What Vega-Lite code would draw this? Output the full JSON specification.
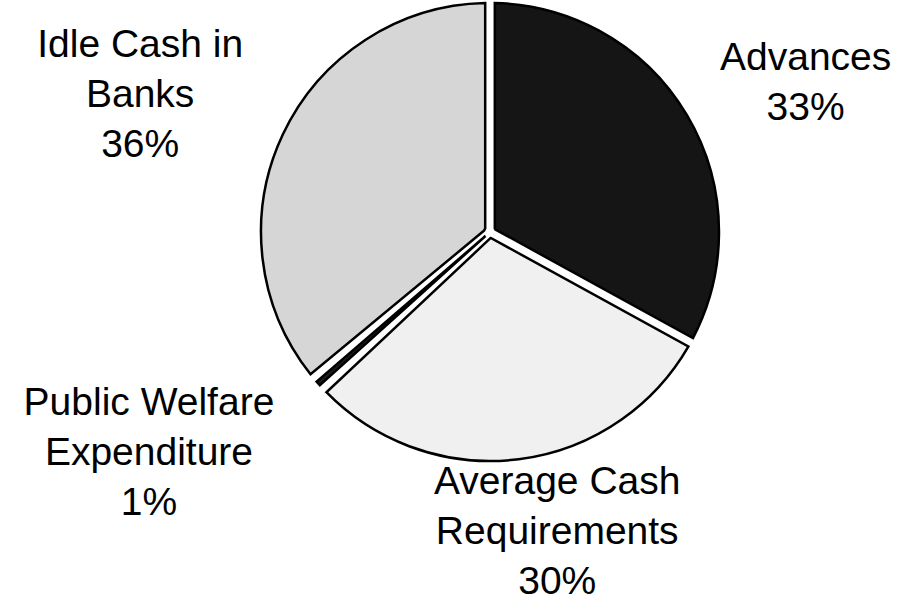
{
  "$schema": "https://vega.github.io/schema/vega-lite/v6.json",
  "width": 600,
  "height": 464,
  "autosize": "none",
  "padding": {"left": 190, "top": 0, "right": 111, "bottom": 141},
  "background": "white",
  "config": {"view": {"stroke": null}, "text": {"font": "Liberation Sans"}},
  "data": {
    "values": [
      {"name": "Advances", "label": "Advances\n33%", "value": 33, "idx": 1},
      {"name": "Average Cash Requirements", "label": "Average Cash\nRequirements\n30%", "value": 30, "idx": 2},
      {"name": "Public Welfare Expenditure", "label": "Public Welfare\nExpenditure\n1%", "value": 1, "idx": 3},
      {"name": "Idle Cash in Banks", "label": "Idle Cash in\nBanks\n36%", "value": 36, "idx": 4}
    ]
  },
  "encoding": {
    "theta": {"field": "value", "type": "quantitative", "stack": true},
    "order": {"field": "idx", "type": "quantitative"}
  },
  "layer": [
    {
      "mark": {"type": "arc", "radius": 229, "radius2": 6, "padAngle": 0.042, "stroke": "black", "strokeWidth": 2.5, "strokeJoin": "miter"},
      "encoding": {
        "color": {
          "field": "name",
          "type": "nominal",
          "scale": {
            "domain": ["Advances", "Average Cash Requirements", "Public Welfare Expenditure", "Idle Cash in Banks"],
            "range": ["#151515", "#f0f0f0", "#1c1c1c", "#d6d6d6"]
          },
          "legend": null
        }
      }
    },
    {
      "mark": {"type": "text", "radius": 340, "dx": 23, "dy": -1, "fontSize": 39, "lineHeight": 50, "lineBreak": "\n", "align": "center", "baseline": "middle", "color": "black"},
      "encoding": {"text": {"condition": {"test": "datum.name === 'Advances'", "field": "label"}, "value": ""}}
    },
    {
      "mark": {"type": "text", "radius": 305, "dx": 29, "dy": -53, "fontSize": 39, "lineHeight": 50, "lineBreak": "\n", "align": "center", "baseline": "middle", "color": "black"},
      "encoding": {"text": {"condition": {"test": "datum.name === 'Average Cash Requirements'", "field": "label"}, "value": ""}}
    },
    {
      "mark": {"type": "text", "radius": 400, "dx": -41, "dy": -94, "fontSize": 39, "lineHeight": 50, "lineBreak": "\n", "align": "center", "baseline": "middle", "color": "black"},
      "encoding": {"text": {"condition": {"test": "datum.name === 'Public Welfare Expenditure'", "field": "label"}, "value": ""}}
    },
    {
      "mark": {"type": "text", "radius": 380, "dx": -6, "dy": -25, "fontSize": 39, "lineHeight": 50, "lineBreak": "\n", "align": "center", "baseline": "middle", "color": "black"},
      "encoding": {"text": {"condition": {"test": "datum.name === 'Idle Cash in Banks'", "field": "label"}, "value": ""}}
    }
  ]
}
